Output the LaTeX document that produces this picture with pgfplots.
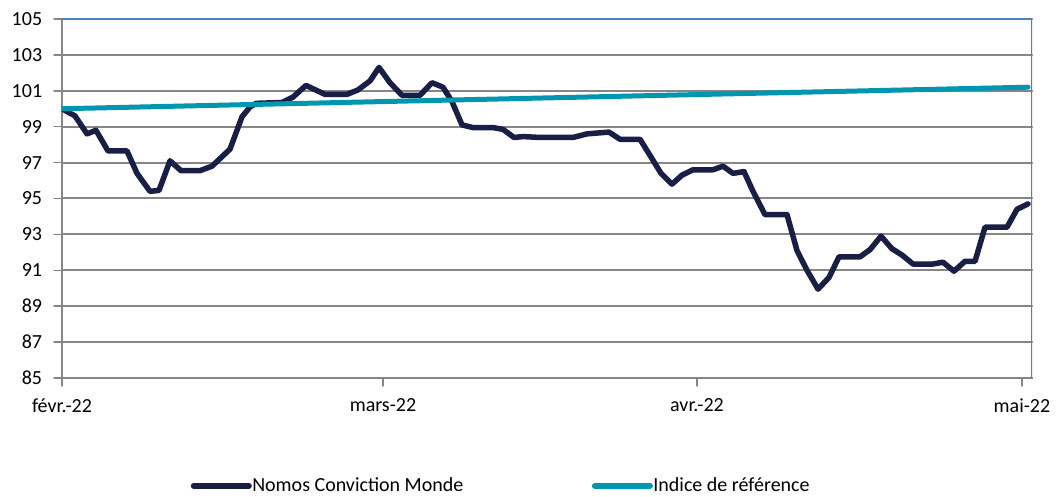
\documentclass[border=0pt]{standalone}
\usepackage{fontspec}
\setmainfont{Carlito}
\usepackage{pgfplots}
\pgfplotsset{compat=1.18}
\definecolor{navy}{RGB}{24,30,68}
\definecolor{tealref}{RGB}{0,150,176}
\definecolor{gridgray}{RGB}{134,134,134}
\definecolor{borderblue}{RGB}{79,129,189}
\begin{document}
\fontsize{20}{24}\selectfont
\begin{tikzpicture}
\useasboundingbox (-62pt,-119pt) rectangle (996pt,378pt);
\begin{axis}[
  at={(0pt,0pt)}, anchor=south west,
  scale only axis, width=970pt, height=359pt,
  xmin=62, xmax=1032, ymin=85, ymax=105,
  axis lines*=left,
  axis line style={gridgray, line width=2pt},
  ytick={85,87,...,105},
  xtick={62,383,697,1022},
  xticklabels={févr.-22,mars-22,avr.-22,mai-22},
  ymajorgrids,
  grid style={gridgray, line width=2pt},
  tick align=outside,
  major tick length=8pt,
  tick style={gridgray, line width=1.5pt},
  /pgf/number format/assume math mode=true,
  ticklabel style={font=\fontsize{20}{24}\selectfont},
  yticklabel style={xshift=-5pt},
  xticklabel style={yshift=-6pt},
  legend columns=2,
  legend style={at={(axis description cs:0.452,-0.30)}, anchor=center, draw=none, fill=none,
    font=\fontsize{20}{24}\selectfont, inner xsep=0pt, inner ysep=0pt,
    nodes={inner xsep=0.5pt, inner ysep=1pt},
    /tikz/every even column/.append style={column sep=128pt}},
  legend image code/.code={\draw[#1, line cap=round, line width=6pt] (0pt,0pt) -- (55pt,0pt);},
  line join=round, line cap=round,
]
\addplot[navy, line width=5.5pt] coordinates {
(62,100.0) (75,99.6) (87,98.6) (96,98.8) (108,97.65) (127,97.65) (137,96.4)
(150,95.4) (159,95.45) (170,97.1) (181,96.55) (200,96.55) (212,96.8) (230,97.75)
(242,99.55) (250,100.1) (256,100.3) (282,100.35) (293,100.65) (306,101.3) (325,100.8)
(347,100.8) (358,101.05) (370,101.55) (379,102.3) (390,101.45) (402,100.75) (420,100.75)
(432,101.45) (443,101.2) (452,100.4) (462,99.1) (473,98.95) (493,98.95) (503,98.85)
(514,98.4) (523,98.45) (540,98.4) (573,98.4) (587,98.6) (609,98.7) (620,98.3)
(640,98.3) (650,97.4) (661,96.4) (672,95.8) (682,96.3) (693,96.6) (713,96.6)
(723,96.8) (733,96.4) (744,96.5) (753,95.4) (765,94.1) (787,94.1) (797,92.1)
(807,91.0) (818,89.95) (829,90.6) (839,91.75) (860,91.75) (870,92.15) (881,92.9)
(892,92.2) (902,91.85) (913,91.35) (933,91.35) (943,91.45) (954,90.95) (965,91.5)
(975,91.5) (985,93.4) (1007,93.4) (1017,94.4) (1028,94.7)
};
\addlegendentry{Nomos Conviction Monde}
\addplot[tealref, line width=5pt] coordinates {
(62,100.0) (383,100.4) (697,100.79) (1028,101.2)
};
\addlegendentry{Indice de référence}
\draw[borderblue, line width=1.2pt] (rel axis cs:0,1) -- (rel axis cs:1,1) -- (rel axis cs:1,0);
\end{axis}
\end{tikzpicture}
\end{document}
